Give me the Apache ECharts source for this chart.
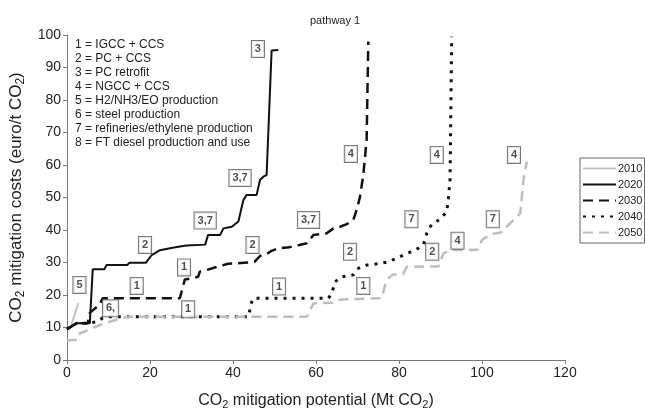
<!DOCTYPE html>
<html><head><meta charset="utf-8">
<script src="https://cdn.jsdelivr.net/npm/echarts@6/dist/echarts.min.js"></script>
<style>html,body{margin:0;padding:0;background:#fff}#c{width:645px;height:411px}</style>
</head><body><div id="c"></div>
<script>
// ---- data (x: Mt CO2, y: euro/t CO2) ----
const years = ['2010', '2020', '2030', '2040', '2050'];
const xTicks = [0, 20, 40, 60, 80, 100, 120];
const yTicks = [0, 10, 20, 30, 40, 50, 60, 70, 80, 90, 100];
const s2010 = [[0,9.3],[1,10.5],[2.7,17.5]];
const s2020 = [[0,9.5],[1,10.2],[2.3,11.3],[5.5,11.3],[6.2,27.9],[9,27.9],[9.5,29.2],[14.5,29.2],[15,29.9],[19,29.9],[20.4,32.3],[22.4,33.8],[24.8,34.4],[27.2,34.9],[28.8,35.2],[33.3,35.5],[34,38.5],[36.9,38.5],[37.7,40.5],[39.7,41],[41.3,42.6],[42.5,49.2],[43.3,50.8],[45.7,50.8],[46.5,55.4],[47.3,56.4],[48.1,56.9],[49.3,95.2],[50.9,95.4]];
const s2030 = [[0,9.5],[2.3,11.3],[5,11.3],[5.5,14.5],[7.8,17],[8.6,19],[27.2,19],[27.6,21],[28.4,24.8],[30.2,25.1],[31.6,25.6],[32,27.2],[33.7,27.7],[36,28.6],[38.8,29.6],[42.5,29.9],[45.2,30.2],[46.5,32],[48.1,32.6],[49.3,33.6],[51,34.4],[53.5,34.7],[56,35.4],[57.8,35.9],[59.4,38.5],[62.6,39],[64.2,40.5],[65.8,41],[67.4,41.8],[69,43.1],[69.8,46.2],[70.6,50.2],[71.4,57],[72.2,67.7],[72.6,98]];
const s2040 = [[0,9.5],[2.3,11.3],[5.5,11.3],[7.8,12.1],[8.6,13],[10,13.3],[43.7,13.3],[44.5,17.9],[44.9,19],[63,19],[63.8,20.5],[64.6,24.1],[66.2,25.6],[69,26.2],[70.2,28.2],[72.2,29.2],[75.4,29.7],[77.4,30.2],[79.4,31.3],[81.9,32.8],[83.9,33.8],[85.9,35.4],[86.7,39],[87.9,41.8],[89.9,43.3],[91.5,45.6],[91.9,49.7],[92.3,55.4],[92.7,99.5]];
const s2050 = [[0,6],[2.7,6.3],[3.1,8.2],[5.5,9.4],[8,10.8],[10.4,11.8],[12.8,12.8],[15.2,13.3],[57.8,13.3],[58.6,15.4],[59.4,17.4],[64,17.6],[66,18.6],[75.8,19],[77,24.6],[78.4,26.2],[81,26.5],[81.9,28.7],[89.5,28.8],[90.7,32.7],[92.3,33.8],[98.9,33.9],[100,36.9],[102,38.7],[104.5,39.2],[107.6,43.1],[109.2,45.1],[110,55.4],[110.8,61]];
// boxed option labels placed in data coordinates
const tagX = [46, 41.7, 33.3, 18.8, 3, 16.8, 10.5, 29.2, 28.2, 44.7, 58.2, 68.4, 68.2, 71.4, 51.1, 89.1, 107.7, 83, 88, 94.1, 102.6];
const tagY = [95.7, 56, 42.9, 35.4, 23.1, 22.8, 15.9, 15.6, 28.5, 35.4, 43.1, 63.4, 33.3, 22.8, 22.6, 63.1, 63.1, 43.3, 33.3, 36.7, 43.3];
const tagText = ['3', '3,7', '3,7', '2', '5', '1', '6,', '1', '1', '2', '3,7', '4', '2', '1', '1', '4', '4', '7', '2', '4', '7'];
const keyLines = ['1 = IGCC + CCS', '2 = PC + CCS', '3 = PC retrofit', '4 = NGCC + CCS', '5 = H2/NH3/EO production', '6 = steel production', '7 = refineries/ethylene production', '8 = FT diesel production and use'];

const FONT = 'Liberation Sans, Arial, sans-serif';
const styles = {
  '2010': {color: '#c4c4c4', width: 2, type: 'solid'},
  '2020': {color: '#111', width: 2, type: 'solid'},
  '2030': {color: '#111', width: 2.5, type: [10, 6]},
  '2040': {color: '#111', width: 3, type: [3, 6]},
  '2050': {color: '#bdbdbd', width: 2.5, type: [10, 6]}
};
const seriesData = {'2010': s2010, '2020': s2020, '2030': s2030, '2040': s2040, '2050': s2050};

const chart = echarts.init(document.getElementById('c'), null, {renderer: 'canvas'});
const lineSeries = years.map(y => ({
  name: y, type: 'line', data: seriesData[y], symbol: 'none', showSymbol: false,
  lineStyle: {color: styles[y].color, width: styles[y].width, type: styles[y].type, cap: 'butt'},
  itemStyle: {color: styles[y].color}, animation: false, z: 2
}));
const sub = {fontSize: 11, fontFamily: FONT, color: '#222', padding: [8, 0, 0, 0]};
const subY = {fontSize: 12, fontFamily: FONT, color: '#222', padding: [8, 0, 0, 0]};
chart.setOption({
  animation: false,
  backgroundColor: '#fff',
  title: {text: 'pathway 1', left: 305, top: 10, textStyle: {fontSize: 11, fontWeight: 'normal', color: '#222', fontFamily: FONT}},
  grid: {left: 67, right: 80, top: 35, bottom: 51, containLabel: false, outerBoundsMode: 'none'},
  legend: {
    data: years, orient: 'vertical', left: 580, top: 158, itemWidth: 33, itemHeight: 10, itemGap: 5,
    borderColor: '#666', borderWidth: 1, padding: [5, 2, 5, 2], backgroundColor: '#fff',
    itemStyle: {opacity: 0},
    textStyle: {fontSize: 11, color: '#222', fontFamily: FONT, padding: [0, 0, 0, -3]}
  },
  xAxis: {
    type: 'value', min: xTicks[0], max: xTicks[xTicks.length - 1], interval: 20,
    name: 'CO{s|2} mitigation potential (Mt CO{s|2})', nameLocation: 'middle', nameGap: 31,
    nameTextStyle: {fontSize: 16, color: '#222', fontFamily: FONT, rich: {s: sub}},
    axisLine: {lineStyle: {color: '#777', width: 1}},
    axisTick: {show: true, length: 4, lineStyle: {color: '#777'}},
    axisLabel: {fontSize: 14, color: '#222', fontFamily: FONT, margin: 6},
    splitLine: {show: false}
  },
  yAxis: {
    type: 'value', min: yTicks[0], max: yTicks[yTicks.length - 1], interval: 10,
    name: 'CO{s|2} mitigation costs (euro/t CO{s|2})', nameLocation: 'middle', nameGap: 33,
    nameTextStyle: {fontSize: 17, color: '#222', fontFamily: FONT, rich: {s: subY}},
    axisLine: {show: true, lineStyle: {color: '#777', width: 1}},
    axisTick: {show: true, length: 4, lineStyle: {color: '#777'}},
    axisLabel: {fontSize: 14, color: '#222', fontFamily: FONT, margin: 6},
    splitLine: {show: false}
  },
  graphic: [{
    type: 'text', left: 75, top: 38, z: 10,
    style: {text: keyLines.join('\n'), fontSize: 12, lineHeight: 14, fill: '#222', fontFamily: FONT}
  }],
  series: lineSeries.concat([{
    name: 'tags', type: 'scatter', symbolSize: 0, z: 5, animation: false,
    data: tagText.map((t, i) => ({value: [tagX[i], tagY[i]], name: t})),
    label: {
      show: true, position: 'inside', formatter: p => p.name,
      fontSize: 11, fontWeight: 'bold', color: '#222', fontFamily: FONT,
      borderColor: '#555', borderWidth: 1, padding: [3, 3, 2, 3], backgroundColor: '#fff'
    },
    emphasis: {disabled: true}
  }])
});
</script></body></html>
